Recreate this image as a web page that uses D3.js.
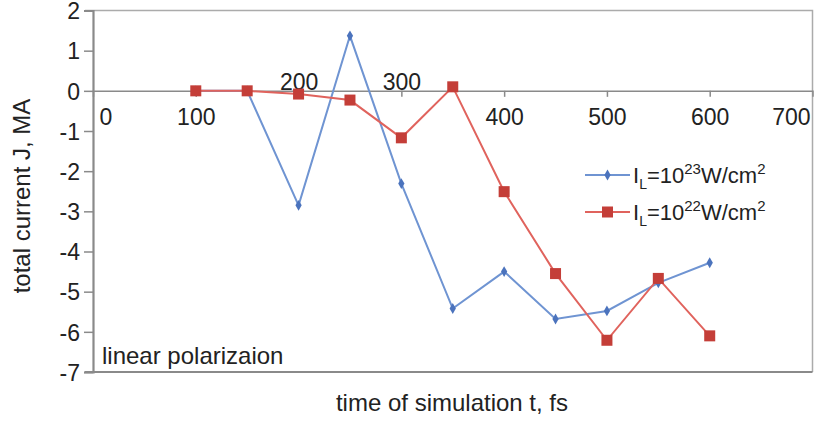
<!DOCTYPE html>
<html>
<head>
<meta charset="utf-8">
<script src="https://cdn.jsdelivr.net/npm/d3@7"></script>
<style>
  html, body { margin: 0; padding: 0; background: #fff; }
  svg { display: block; font-family: "Liberation Sans", Arial, sans-serif; }
</style>
</head>
<body>
<svg id="chart" width="814" height="421"></svg>
<script>
// simulation times, fs
const times = [100, 150, 200, 250, 300, 350, 400, 450, 500, 550, 600];
// total current J, MA
const currentI23 = [0, 0, -2.85, 1.37, -2.31, -5.42, -4.50, -5.68, -5.48, -4.78, -4.28];
const currentI22 = [0, 0, -0.08, -0.23, -1.17, 0.10, -2.51, -4.55, -6.21, -4.67, -6.10];
const xTicks = [0, 100, 200, 300, 400, 500, 600, 700];
const yTicks = [2, 1, 0, -1, -2, -3, -4, -5, -6, -7];
const seriesExp = ["23", "22"];

const svg = d3.select("#chart");
const x = d3.scaleLinear().domain([0, 700]).range([93, 812.5]);
const y = d3.scaleLinear().domain([-7, 2]).range([372, 10.5]);

const AXIS = "#8a8a8a", FRAME = "#ababab";
const BLUE_LINE = "#6f94d2", BLUE_MARK = "#4b73bd";
const RED_LINE = "#e0635d", RED_MARK = "#c43e38";

// plot frame (top and right)
svg.append("path")
  .attr("d", `M${x(0) - 8},${y(2)} H${x(700)} V${y(-7)}`)
  .attr("fill", "none").attr("stroke", FRAME).attr("stroke-width", 1.5);

// left axis with outward ticks
const yAxis = svg.append("g")
  .attr("transform", `translate(${x(0)},0)`)
  .call(d3.axisLeft(y).tickValues(yTicks).tickSize(9).tickPadding(4).tickFormat(d3.format("d")));
yAxis.select(".domain").attr("stroke", AXIS).attr("stroke-width", 2.2);
yAxis.selectAll(".tick line").attr("stroke", AXIS).attr("stroke-width", 1.5);
yAxis.selectAll(".tick text")
  .attr("font-size", 23).attr("fill", "#222")
  .attr("font-family", "Liberation Sans, Arial, sans-serif")
  .attr("dy", "0.36em")
  .text(d => d < 0 ? "-" + Math.abs(d) : d);

// bottom axis line
svg.append("line")
  .attr("x1", x(0) - 8).attr("x2", x(700))
  .attr("y1", y(-7)).attr("y2", y(-7))
  .attr("stroke", AXIS).attr("stroke-width", 2.2);

// time axis drawn along J = 0
const xAxis = svg.append("g")
  .attr("transform", `translate(0,${y(0)})`)
  .call(d3.axisBottom(x).tickValues(xTicks).tickSize(6).tickFormat(d3.format("d")));
xAxis.select(".domain").attr("stroke", AXIS).attr("stroke-width", 1.5);
xAxis.selectAll(".tick line")
  .attr("stroke", AXIS).attr("stroke-width", 1.5)
  .attr("display", d => (d === 0 || d === 700) ? "none" : null);
const raised = new Set([200, 300]);
xAxis.selectAll(".tick text")
  .attr("font-size", 23).attr("fill", "#222")
  .attr("font-family", "Liberation Sans, Arial, sans-serif")
  .attr("dy", null)
  .attr("y", d => raised.has(d) ? -1 : 34)
  .attr("text-anchor", d => d === 0 ? "start" : d === 700 ? "end" : "middle")
  .attr("x", d => d === 0 ? 6 : d === 700 ? -2.5 : 0);

// series lines
const line = (vals) => d3.line().x((d, i) => x(times[i])).y(d => y(d))(vals);

svg.append("path").attr("d", line(currentI23))
  .attr("fill", "none").attr("stroke", BLUE_LINE).attr("stroke-width", 2);
svg.append("path").attr("d", line(currentI22))
  .attr("fill", "none").attr("stroke", RED_LINE).attr("stroke-width", 2);

const diamond = d3.symbol().type(d3.symbolDiamond).size(34);
svg.append("g").selectAll("path").data(currentI23).join("path")
  .attr("d", diamond)
  .attr("transform", (d, i) => `translate(${x(times[i])},${y(d)})`)
  .attr("fill", BLUE_MARK);

svg.append("g").selectAll("rect").data(currentI22).join("rect")
  .attr("x", (d, i) => x(times[i]) - 5.5).attr("y", d => y(d) - 5.5)
  .attr("width", 11).attr("height", 11)
  .attr("fill", RED_MARK);

// legend
const legend = svg.append("g");
const legendRows = [
  { exp: seriesExp[0], lc: BLUE_LINE, mc: BLUE_MARK, shape: "diamond", cy: 175 },
  { exp: seriesExp[1], lc: RED_LINE, mc: RED_MARK, shape: "square", cy: 212 }
];
legendRows.forEach(r => {
  legend.append("line").attr("x1", 585).attr("x2", 630).attr("y1", r.cy).attr("y2", r.cy)
    .attr("stroke", r.lc).attr("stroke-width", 2);
  if (r.shape === "diamond") {
    legend.append("path").attr("d", diamond).attr("transform", `translate(607.5,${r.cy})`).attr("fill", r.mc);
  } else {
    legend.append("rect").attr("x", 602).attr("y", r.cy - 5.5).attr("width", 11).attr("height", 11).attr("fill", r.mc);
  }
  const t = legend.append("text").attr("x", 633).attr("y", r.cy + 8)
    .attr("font-size", 22).attr("fill", "#222");
  t.append("tspan").text("I");
  t.append("tspan").attr("font-size", 14).attr("dy", 6).text("L");
  t.append("tspan").attr("dy", -6).text("=10");
  t.append("tspan").attr("font-size", 15).attr("dy", -9).text(r.exp);
  t.append("tspan").attr("dy", 9).text("W/cm");
  t.append("tspan").attr("font-size", 15).attr("dy", -9).text("2");
});

// annotation
svg.append("text").attr("x", 102).attr("y", 364)
  .attr("font-size", 24).attr("fill", "#222").text("linear polarizaion");

// axis titles
svg.append("text").attr("x", 452).attr("y", 411).attr("text-anchor", "middle")
  .attr("font-size", 24).attr("fill", "#222").text("time of simulation t, fs");
svg.append("text").attr("transform", "translate(30,196) rotate(-90)").attr("text-anchor", "middle")
  .attr("font-size", 24).attr("fill", "#222").text("total current J, MA");
</script>
</body>
</html>
